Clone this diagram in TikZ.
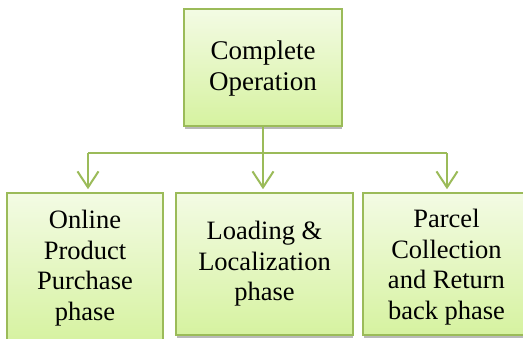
\documentclass[tikz,border=0pt]{standalone}
\usepackage{fontspec}
\setmainfont{Liberation Serif}
\usetikzlibrary{arrows.meta}
\definecolor{olive}{HTML}{9BBB59}
\definecolor{boxtop}{HTML}{F3FBE4}
\definecolor{boxbot}{HTML}{D6F2A0}
\tikzset{
  phasebox/.style={draw=olive, line width=1.6pt, top color=boxtop, bottom color=boxbot,
    align=center, inner sep=0pt, font=\fontsize{26.5}{30.5}\selectfont},
  link/.style={draw=olive, line width=2pt, -{Straight Barb[length=16pt,width=21pt,line width=2pt]}, shorten >=3pt},
  plain/.style={draw=olive, line width=2pt}
}
\begin{document}
\begin{tikzpicture}[x=1pt,y=-1pt]
\useasboundingbox (0,0) rectangle (523,338);
% shadows
\fill[gray!55] (185,126) rectangle (342,129);
\fill[gray!55] (177,335) rectangle (353,338);
\fill[gray!55] (364,335) rectangle (530,338);
\node[phasebox, minimum width=158pt, minimum height=117pt] (top) at (263,67.5) {};
\node[font=\fontsize{27}{31}\selectfont, align=center, inner sep=0pt] (toptext) at (263,69) {Complete\\Operation};
\node[phasebox, minimum width=156pt, minimum height=150pt] (b1) at (85,268) {Online\\Product\\Purchase\\phase};
\node[phasebox, minimum width=177pt, minimum height=142pt] (b2) at (264.5,264) {Loading \&\\Localization\\phase};
\node[phasebox, minimum width=167pt, minimum height=142pt] (b3) at (446.5,264) {};
\node[font=\fontsize{26.5}{30.5}\selectfont, align=center, inner sep=0pt] (b3text) at (446.5,267) {Parcel\\Collection\\and Return\\back phase};
\coordinate (jl) at (88,153);
\coordinate (jr) at (447,153);
\draw[link] (top.south) -- (top.south |- b2.north);
\draw[plain] (jl) -- (jr);
\draw[link] (jl) -- (jl |- b1.north);
\draw[link] (jr) -- (jr |- b3.north);
\end{tikzpicture}
\end{document}
